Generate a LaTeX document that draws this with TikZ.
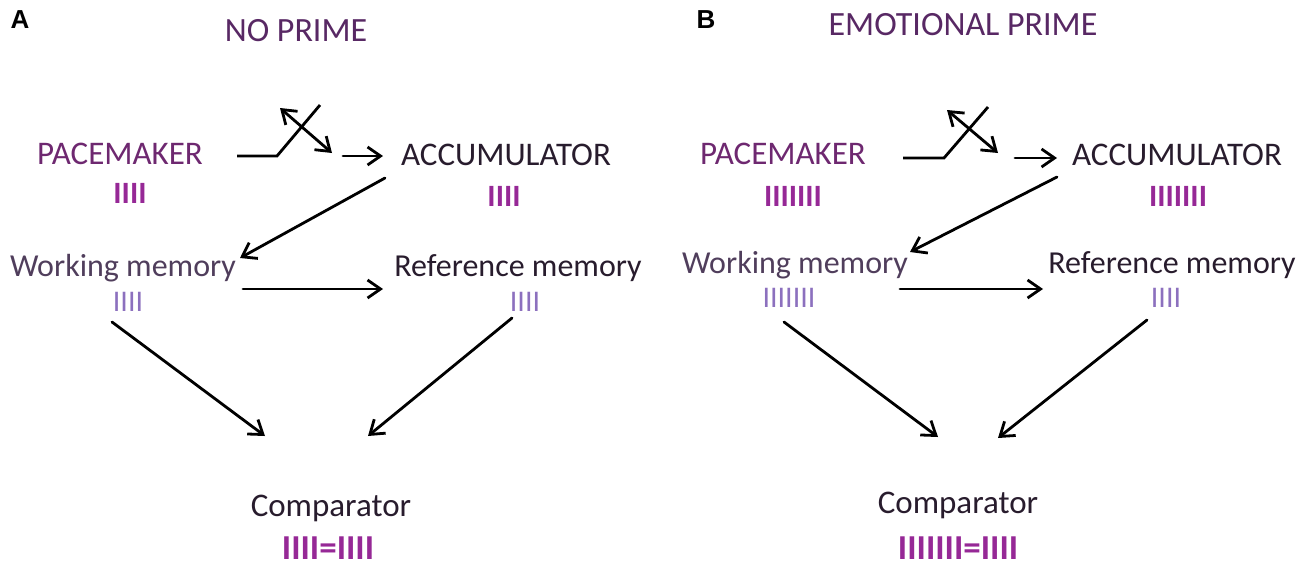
\documentclass[tikz,border=0pt]{standalone}
\usepackage{fontspec}
\setmainfont{Carlito}
\newfontfamily\panelfont{Liberation Sans}
\usetikzlibrary{arrows.meta}

\definecolor{titlecol}{RGB}{88,40,100}
\definecolor{pacecol}{RGB}{110,40,112}
\definecolor{darkcol}{RGB}{40,28,45}
\definecolor{memcol}{RGB}{80,62,92}
\definecolor{barcol}{RGB}{150,40,150}
\definecolor{lavcol}{RGB}{140,112,190}

\tikzset{
  every picture/.style={line width=2.8pt},
  lbl/.style={inner sep=0pt, font=\fontsize{33}{36}\selectfont},
  memlbl/.style={inner sep=0pt, font=\fontsize{32}{36}\selectfont},
  bars/.style={inner sep=0pt, text=barcol, font=\fontsize{31}{34}\selectfont\bfseries},
  compbars/.style={inner sep=0pt, text=barcol, font=\fontsize{35}{38}\selectfont\bfseries},
  lavbars/.style={inner sep=0pt, text=lavcol, font=\fontsize{30}{32}\selectfont},
  arr/.style={-{Straight Barb[length=13pt,width=18pt,line width=2.8pt]}, line cap=round},
  dblarr/.style={{Straight Barb[length=13pt,width=18pt,line width=2.8pt]}-{Straight Barb[length=13pt,width=18pt,line width=2.8pt]}}
}

\begin{document}
\begin{tikzpicture}[x=1pt,y=1pt,yscale=-1,xscale=1]
    \useasboundingbox (0,0) rectangle (1300,571);

    % Panel letters
    \node[inner sep=0pt, font=\fontsize{26}{28}\selectfont\panelfont\bfseries] (letA) at (20,20) {A};
    \node[inner sep=0pt, font=\fontsize{26}{28}\selectfont\panelfont\bfseries] (letB) at (706,20) {B};

    % Titles
    \node[lbl, font=\fontsize{34}{36}\selectfont, text=titlecol] (titleA) at (296,31) {NO PRIME};
    \node[lbl, font=\fontsize{34}{36}\selectfont, text=titlecol] (titleB) at (963,25) {EMOTIONAL PRIME};

    %% ---- Panel A ----
    % Text Node
    \node[lbl, text=pacecol] (paceA) at (120,154) {PACEMAKER};
    \node[bars] (paceAbar) at (130,193) {IIII};
    % Text Node
    \node[lbl, text=darkcol] (accA) at (506,155) {ACCUMULATOR};
    \node[bars] (accAbar) at (504,196) {IIII};
    % Text Node
    \node[memlbl, text=memcol] (wmA) at (123,268) {Working memory};
    \node[lavbars] (wmAbar) at (128,302) {IIII};
    % Text Node
    \node[memlbl, text=darkcol] (rmA) at (518,268) {Reference memory};
    \node[lavbars] (rmAbar) at (525,302) {IIII};
    % Text Node
    \node[lbl, text=darkcol] (compA) at (331,508) {Comparator};
    \node[compbars] (compAbar) at (328,548) {IIII=IIII};

    % Switch
    \coordinate (swA1) at (237,156);
    \coordinate (swA2) at (277,156);
    \coordinate (swA3) at (320,105);
    \draw (swA1) -- (swA2) -- (swA3);
    \coordinate (swA4) at (280,108);
    \coordinate (swA5) at (332,153);
    \draw[dblarr] (swA4) -- (swA5);
    \coordinate (swA6) at (343,156);
    \draw[arr] (swA6) -- ([shift={(-123,1)}]accA.center);

    % Straight Lines
    \draw[arr] ([shift={(-121,23)}]accA.center) -- ([shift={(117,-10)}]wmA.center);
    \draw[arr] ([shift={(120,21)}]wmA.center) -- ([shift={(-135,21)}]rmA.center);
    \draw[arr] ([shift={(-16,20)}]wmAbar.center) -- ([shift={(-66,-72)}]compA.center);
    \draw[arr] ([shift={(-13,16)}]rmAbar.center) -- ([shift={(37,-72)}]compA.center);

    %% ---- Panel B ----
    % Text Node
    \node[lbl, text=pacecol] (paceB) at (783,154) {PACEMAKER};
    \node[bars] (paceBbar) at (793,196) {IIIIIII};
    % Text Node
    \node[lbl, text=darkcol] (accB) at (1177,155) {ACCUMULATOR};
    \node[bars] (accBbar) at (1178,196) {IIIIIII};
    % Text Node
    \node[memlbl, text=memcol] (wmB) at (795,265) {Working memory};
    \node[lavbars] (wmBbar) at (789,298) {IIIIIII};
    % Text Node
    \node[memlbl, text=darkcol] (rmB) at (1172,265) {Reference memory};
    \node[lavbars] (rmBbar) at (1166,298) {IIII};
    % Text Node
    \node[lbl, text=darkcol] (compB) at (958,505) {Comparator};
    \node[compbars] (compBbar) at (958,548) {IIIIIII=IIII};

    % Switch
    \coordinate (swB1) at (903,158);
    \coordinate (swB2) at (944,158);
    \coordinate (swB3) at (988,107);
    \draw (swB1) -- (swB2) -- (swB3);
    \coordinate (swB4) at (947,110);
    \coordinate (swB5) at (998,153);
    \draw[dblarr] (swB4) -- (swB5);
    \coordinate (swB6) at (1015,158);
    \draw[arr] (swB6) -- ([shift={(-120,3)}]accB.center);

    % Straight Lines
    \draw[arr] ([shift={(-120,22)}]accB.center) -- ([shift={(115,-13)}]wmB.center);
    \draw[arr] ([shift={(105,24)}]wmB.center) -- ([shift={(-129,24)}]rmB.center);
    \draw[arr] ([shift={(-5,24)}]wmBbar.center) -- ([shift={(-20,-68)}]compB.center);
    \draw[arr] ([shift={(-19,22)}]rmBbar.center) -- ([shift={(40,-67)}]compB.center);

\end{tikzpicture}
\end{document}
